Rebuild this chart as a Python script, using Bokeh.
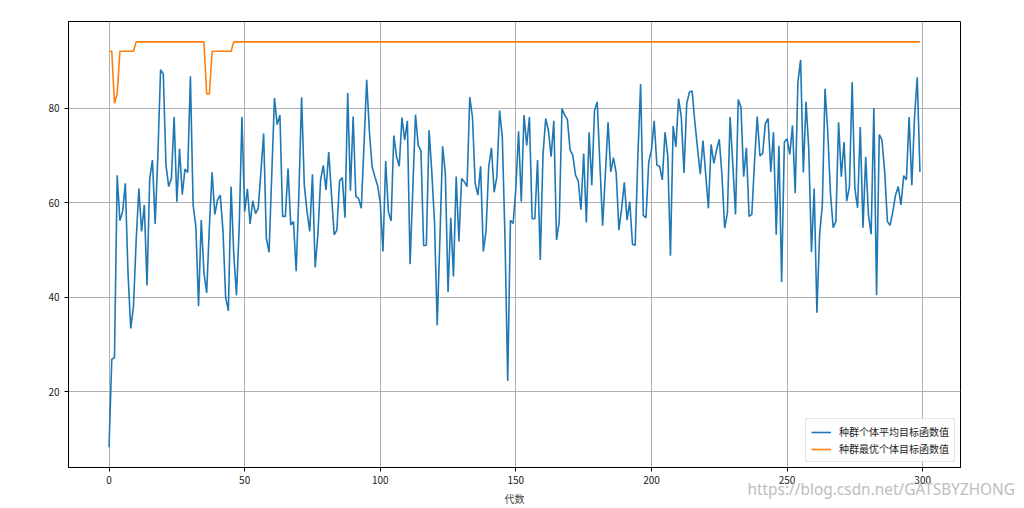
from bokeh.plotting import figure
from bokeh.models import Range1d, FixedTicker, Label, Legend, LegendItem
from bokeh.embed import file_html
from bokeh.resources import INLINE

avg_vals = [
    8.3, 26.9, 27.2, 65.8, 56.2, 58.1, 64.1, 45.0, 33.4, 38.0,
    52.0, 63.0, 53.9, 59.5, 42.5, 65.1, 69.0, 55.5, 70.0, 88.1,
    87.2, 67.9, 63.4, 65.1, 78.1, 60.2, 71.4, 61.7, 67.1, 66.4,
    86.7, 59.5, 55.0, 38.1, 56.3, 45.1, 40.9, 55.0, 66.4, 57.5,
    60.6, 61.6, 54.2, 39.9, 37.1, 63.4, 49.0, 40.4, 55.0, 78.1,
    58.1, 62.9, 55.5, 60.4, 57.7, 58.8, 66.5, 74.6, 52.5, 49.5,
    66.0, 82.1, 76.5, 78.5, 57.1, 57.1, 67.2, 55.3, 56.0, 45.5,
    62.0, 82.3, 63.7, 58.1, 53.9, 66.0, 46.3, 53.2, 64.8, 67.9,
    62.7, 70.7, 62.0, 53.2, 54.2, 64.6, 65.3, 56.8, 83.2, 62.5,
    78.2, 61.3, 60.9, 58.8, 72.0, 86.0, 75.0, 67.6, 65.5, 63.7,
    60.0, 49.7, 68.8, 58.1, 56.1, 74.2, 69.7, 67.7, 78.0, 73.2,
    77.3, 47.0, 63.0, 78.6, 72.1, 71.0, 50.9, 51.0, 75.3, 66.5,
    56.0, 34.1, 52.5, 71.9, 66.2, 41.1, 56.8, 44.4, 65.5, 51.8,
    65.1, 64.4, 63.4, 82.3, 78.1, 64.1, 61.6, 67.7, 49.7, 53.9,
    67.6, 71.6, 62.2, 65.5, 79.5, 73.9, 52.5, 22.3, 56.3, 55.6,
    63.0, 75.1, 60.2, 78.5, 72.1, 78.1, 56.6, 56.6, 69.0, 47.9,
    70.0, 77.8, 75.3, 69.7, 77.3, 52.1, 56.0, 79.9, 78.5, 77.6,
    71.1, 70.0, 65.8, 64.6, 58.5, 70.4, 55.8, 74.9, 63.7, 79.5,
    81.3, 68.0, 55.1, 66.0, 77.0, 66.5, 69.5, 66.2, 54.2, 58.8,
    64.3, 56.3, 60.2, 51.2, 51.0, 70.0, 85.1, 57.3, 56.8, 68.6,
    71.1, 77.3, 67.9, 67.7, 64.8, 74.9, 70.0, 48.8, 76.2, 71.8,
    82.0, 78.1, 66.3, 80.9, 83.4, 83.6, 77.0, 71.4, 66.0, 73.1,
    66.0, 58.8, 72.3, 68.3, 71.1, 73.4, 65.8, 54.6, 57.8, 78.1,
    68.0, 57.5, 81.8, 80.2, 65.5, 71.6, 57.1, 57.5, 68.6, 78.2,
    69.9, 70.4, 76.7, 77.8, 66.5, 74.9, 53.2, 72.0, 43.2, 72.8,
    73.5, 70.2, 76.3, 62.0, 85.5, 90.2, 66.4, 81.3, 71.4, 49.5,
    63.0, 36.7, 53.2, 59.5, 84.1, 75.0, 62.0, 54.7, 56.0, 77.0,
    65.5, 72.8, 60.3, 63.4, 85.5, 63.0, 58.9, 76.0, 54.7, 69.7,
    57.4, 53.3, 80.0, 40.4, 74.4, 73.2, 66.5, 56.0, 55.2, 58.1,
    61.6, 63.4, 59.5, 65.7, 64.8, 78.1, 63.7, 78.1, 86.5, 66.5,
]

best_vals = ([92.0, 92.0, 81.0, 83.0, 92.0, 92.0, 92.0, 92.0, 92.0, 92.0]
             + [94.0] * 26 + [83.0, 83.0] + [92.0] * 8 + [94.0] * 254)

generations = list(range(len(avg_vals)))

x_ticks = [0, 50, 100, 150, 200, 250, 300]
y_ticks = [20, 40, 60, 80]

label_avg = "种群个体平均目标函数值"
label_best = "种群最优个体目标函数值"
x_label = "代数"
watermark = "https://blog.csdn.net/GATSBYZHONG"

CJK = "Noto Sans CJK SC"

p = figure(width=1024, height=508, output_backend="svg", toolbar_location=None,
           x_range=Range1d(-14.95, 313.95), y_range=Range1d(4.0, 98.3),
           min_border_left=68, min_border_right=64, min_border_top=20,
           min_border_bottom=41)

p.background_fill_color = "white"
p.border_fill_color = "white"
p.outline_line_color = "black"
p.outline_line_width = 1

for ax in (p.xaxis[0], p.yaxis[0]):
    ax.axis_line_color = "black"
    ax.major_tick_line_color = "black"
    ax.major_tick_out = 4
    ax.major_tick_in = 0
    ax.minor_tick_line_color = None
    ax.major_label_text_font = CJK
    ax.major_label_text_font_size = "10px"
    ax.major_label_text_color = "#222222"

p.xaxis[0].ticker = FixedTicker(ticks=x_ticks)
p.yaxis[0].ticker = FixedTicker(ticks=y_ticks)
p.xaxis[0].axis_label = x_label
p.xaxis[0].axis_label_text_font = CJK
p.xaxis[0].axis_label_text_font_size = "10px"
p.xaxis[0].axis_label_text_font_style = "normal"
p.xaxis[0].axis_label_standoff = 4
p.xaxis[0].major_label_standoff = 4

p.xgrid.grid_line_color = "#b0b0b0"
p.ygrid.grid_line_color = "#b0b0b0"
p.xgrid.grid_line_width = 1
p.ygrid.grid_line_width = 1

r_avg = p.line(generations, avg_vals, line_color="#1f77b4", line_width=1.6)
r_best = p.line(generations, best_vals, line_color="#ff7f0e", line_width=1.6)

legend = Legend(items=[LegendItem(label=label_avg, renderers=[r_avg]),
                       LegendItem(label=label_best, renderers=[r_best])],
                location="bottom_right")
legend.label_text_font = CJK
legend.label_text_font_size = "10px"
legend.label_text_color = "#222222"
legend.glyph_width = 20
legend.glyph_height = 12
legend.label_height = 12
legend.label_standoff = 8
legend.spacing = 2
legend.padding = 5
legend.margin = 5
legend.border_line_color = "#cccccc"
legend.border_line_width = 1
legend.background_fill_alpha = 0.85
p.add_layout(legend)

wm = Label(x=747, y=489, x_units="canvas", y_units="canvas", text=watermark,
           text_font="Noto Sans", text_font_size="15.4px", text_color="#bdbdbd",
           text_baseline="middle", text_line_height=1.0)
p.add_layout(wm, "above")

open("out.html", "w").write(file_html(p, INLINE))
